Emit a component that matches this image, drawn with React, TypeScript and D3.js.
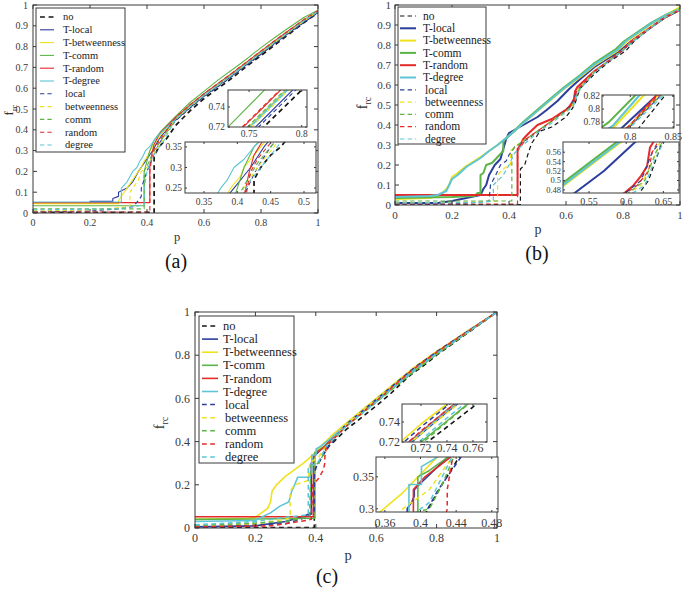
import React from 'react';
import * as d3 from 'd3';

type Pt = [number, number];

const seriesNames = ['no', 'T-local', 'T-betweenness', 'T-comm', 'T-random', 'T-degree', 'local', 'betweenness', 'comm', 'random', 'degree'];
const seriesColors = ['#151515', '#2c3e9c', '#f0e21c', '#5db446', '#e42a2a', '#5cc5d6', '#2c3e9c', '#f0e21c', '#5db446', '#e42a2a', '#5cc5d6'];
const seriesDashed = [true, false, false, false, false, false, true, true, true, true, true];

const xTicksMain = [0, 0.2, 0.4, 0.6, 0.8, 1];
const yTicksAB = [0, 0.1, 0.2, 0.3, 0.4, 0.5, 0.6, 0.7, 0.8, 0.9, 1];
const yTicksC = [0, 0.2, 0.4, 0.6, 0.8, 1];
const a1XTicks = [0.75, 0.8];
const a1YTicks = [0.72, 0.74];
const a2XTicks = [0.35, 0.4, 0.45, 0.5];
const a2YTicks = [0.25, 0.3, 0.35];
const b1XTicks = [0.8, 0.85];
const b1YTicks = [0.78, 0.8, 0.82];
const b2XTicks = [0.55, 0.6, 0.65];
const b2YTicks = [0.48, 0.5, 0.52, 0.54, 0.56];
const c1XTicks = [0.72, 0.74, 0.76];
const c1YTicks = [0.72, 0.74];
const c2XTicks = [0.36, 0.4, 0.44, 0.48];
const c2YTicks = [0.3, 0.35];

// ---------- panel (a) ----------
const aNo: Pt[] = [[0, 0.003], [0.425, 0.003], [0.425, 0.27], [0.435, 0.3], [0.45, 0.33], [0.465, 0.35], [0.5, 0.42], [0.55, 0.49], [0.6, 0.55], [0.65, 0.6], [0.7, 0.65], [0.73, 0.684], [0.76, 0.716], [0.8, 0.757], [0.85, 0.81], [0.9, 0.862], [0.95, 0.915], [1, 0.962]];
const aTLocal: Pt[] = [[0, 0.05], [0.2, 0.05], [0.2, 0.056], [0.28, 0.056], [0.28, 0.07], [0.3, 0.08], [0.3, 0.1], [0.33, 0.12], [0.35, 0.15], [0.37, 0.2], [0.385, 0.23], [0.395, 0.25], [0.41, 0.28], [0.42, 0.3], [0.44, 0.35], [0.45, 0.37], [0.5, 0.446], [0.55, 0.506], [0.6, 0.561], [0.65, 0.611], [0.7, 0.661], [0.73, 0.693], [0.76, 0.724], [0.8, 0.766], [0.85, 0.818], [0.9, 0.868], [0.95, 0.918], [1, 0.965]];
const aTBetw: Pt[] = [[0, 0.045], [0.3, 0.045], [0.3, 0.06], [0.32, 0.1], [0.34, 0.14], [0.36, 0.18], [0.38, 0.22], [0.39, 0.25], [0.405, 0.28], [0.41, 0.3], [0.43, 0.34], [0.45, 0.38], [0.5, 0.453], [0.55, 0.513], [0.6, 0.568], [0.65, 0.618], [0.7, 0.668], [0.73, 0.7], [0.76, 0.731], [0.8, 0.773], [0.85, 0.825], [0.9, 0.875], [0.95, 0.925], [1, 0.972]];
const aTComm: Pt[] = [[0, 0.035], [0.39, 0.035], [0.39, 0.2], [0.4, 0.25], [0.41, 0.3], [0.425, 0.35], [0.45, 0.395], [0.5, 0.465], [0.55, 0.53], [0.6, 0.585], [0.65, 0.64], [0.7, 0.69], [0.73, 0.72], [0.76, 0.752], [0.8, 0.795], [0.85, 0.845], [0.9, 0.893], [0.95, 0.94], [1, 0.975]];
const aTRand: Pt[] = [[0, 0.05], [0.41, 0.05], [0.41, 0.23], [0.418, 0.29], [0.425, 0.33], [0.44, 0.37], [0.45, 0.39], [0.5, 0.458], [0.55, 0.518], [0.6, 0.573], [0.65, 0.623], [0.7, 0.673], [0.73, 0.705], [0.76, 0.736], [0.8, 0.778], [0.85, 0.83], [0.9, 0.88], [0.95, 0.928], [1, 0.97]];
const aTDeg: Pt[] = [[0, 0.053], [0.31, 0.053], [0.31, 0.12], [0.33, 0.15], [0.35, 0.2], [0.365, 0.22], [0.375, 0.25], [0.385, 0.27], [0.395, 0.3], [0.41, 0.32], [0.425, 0.35], [0.45, 0.387], [0.5, 0.452], [0.55, 0.512], [0.6, 0.567], [0.65, 0.617], [0.7, 0.667], [0.73, 0.699], [0.76, 0.73], [0.8, 0.772], [0.85, 0.824], [0.9, 0.874], [0.95, 0.924], [1, 0.968]];
const aLocal: Pt[] = [[0, 0.005], [0.2, 0.01], [0.3, 0.02], [0.35, 0.03], [0.37, 0.06], [0.38, 0.08], [0.38, 0.12], [0.4, 0.2], [0.415, 0.25], [0.43, 0.3], [0.45, 0.35], [0.47, 0.39], [0.5, 0.443], [0.55, 0.503], [0.6, 0.558], [0.65, 0.608], [0.7, 0.658], [0.73, 0.69], [0.76, 0.721], [0.8, 0.763], [0.85, 0.815], [0.9, 0.865], [0.95, 0.915], [1, 0.963]];
const aBetw: Pt[] = [[0, 0.01], [0.2, 0.015], [0.34, 0.03], [0.34, 0.1], [0.35, 0.12], [0.37, 0.16], [0.38, 0.2], [0.4, 0.22], [0.41, 0.25], [0.43, 0.3], [0.455, 0.35], [0.47, 0.39], [0.5, 0.45], [0.55, 0.51], [0.6, 0.565], [0.65, 0.615], [0.7, 0.665], [0.73, 0.697], [0.76, 0.728], [0.8, 0.77], [0.85, 0.822], [0.9, 0.872], [0.95, 0.922], [1, 0.97]];
const aComm: Pt[] = [[0, 0.02], [0.39, 0.02], [0.39, 0.2], [0.405, 0.24], [0.415, 0.27], [0.43, 0.31], [0.45, 0.35], [0.47, 0.39], [0.5, 0.454], [0.55, 0.514], [0.6, 0.569], [0.65, 0.619], [0.7, 0.669], [0.73, 0.701], [0.76, 0.732], [0.8, 0.774], [0.85, 0.826], [0.9, 0.876], [0.95, 0.926], [1, 0.972]];
const aRand: Pt[] = [[0, 0.005], [0.41, 0.005], [0.41, 0.2], [0.415, 0.25], [0.42, 0.29], [0.43, 0.32], [0.45, 0.36], [0.47, 0.4], [0.5, 0.459], [0.55, 0.519], [0.6, 0.574], [0.65, 0.624], [0.7, 0.674], [0.73, 0.706], [0.76, 0.737], [0.8, 0.779], [0.85, 0.831], [0.9, 0.88], [0.95, 0.93], [1, 0.972]];
const aDeg: Pt[] = [[0, 0.015], [0.3, 0.02], [0.35, 0.03], [0.39, 0.04], [0.39, 0.12], [0.4, 0.2], [0.41, 0.24], [0.42, 0.27], [0.44, 0.31], [0.46, 0.35], [0.48, 0.4], [0.5, 0.451], [0.55, 0.511], [0.6, 0.566], [0.65, 0.616], [0.7, 0.666], [0.73, 0.698], [0.76, 0.729], [0.8, 0.771], [0.85, 0.823], [0.9, 0.873], [0.95, 0.923], [1, 0.97]];

// ---------- panel (b) ----------
const bNo: Pt[] = [[0, 0.002], [0.44, 0.002], [0.44, 0.18], [0.455, 0.2], [0.47, 0.27], [0.48, 0.31], [0.5, 0.35], [0.51, 0.37], [0.55, 0.39], [0.6, 0.44], [0.618, 0.474], [0.63, 0.5], [0.648, 0.58], [0.7, 0.655], [0.75, 0.715], [0.81, 0.771], [0.84, 0.82], [0.9, 0.89], [0.95, 0.94], [1, 0.975]];
const bTLocal: Pt[] = [[0, 0.01], [0.15, 0.01], [0.2, 0.02], [0.25, 0.035], [0.3, 0.05], [0.31, 0.08], [0.32, 0.1], [0.33, 0.15], [0.35, 0.2], [0.37, 0.23], [0.38, 0.28], [0.39, 0.33], [0.4, 0.36], [0.45, 0.4], [0.5, 0.44], [0.531, 0.474], [0.57, 0.52], [0.611, 0.58], [0.65, 0.63], [0.7, 0.69], [0.75, 0.735], [0.79, 0.771], [0.83, 0.82], [0.9, 0.89], [0.95, 0.94], [1, 0.975]];
const bTBetw: Pt[] = [[0, 0.03], [0.12, 0.035], [0.16, 0.05], [0.18, 0.08], [0.19, 0.1], [0.2, 0.14], [0.22, 0.16], [0.25, 0.195], [0.3, 0.24], [0.33, 0.27], [0.36, 0.3], [0.39, 0.335], [0.42, 0.37], [0.45, 0.41], [0.515, 0.488], [0.59, 0.578], [0.65, 0.64], [0.7, 0.698], [0.78, 0.771], [0.815, 0.82], [0.9, 0.905], [0.95, 0.95], [1, 0.99]];
const bTComm: Pt[] = [[0, 0.035], [0.2, 0.04], [0.28, 0.045], [0.29, 0.06], [0.3, 0.06], [0.3, 0.15], [0.31, 0.16], [0.32, 0.2], [0.34, 0.21], [0.36, 0.24], [0.38, 0.27], [0.38, 0.32], [0.4, 0.345], [0.45, 0.415], [0.515, 0.495], [0.59, 0.585], [0.65, 0.65], [0.7, 0.71], [0.775, 0.78], [0.805, 0.82], [0.9, 0.912], [0.95, 0.95], [1, 0.98]];
const bTRand: Pt[] = [[0, 0.05], [0.43, 0.05], [0.43, 0.28], [0.44, 0.3], [0.45, 0.33], [0.47, 0.36], [0.5, 0.4], [0.55, 0.43], [0.598, 0.474], [0.61, 0.49], [0.62, 0.51], [0.628, 0.53], [0.632, 0.57], [0.64, 0.59], [0.7, 0.67], [0.75, 0.72], [0.8, 0.775], [0.83, 0.82], [0.9, 0.89], [0.95, 0.94], [1, 0.975]];
const bTDeg: Pt[] = [[0, 0.04], [0.12, 0.045], [0.15, 0.05], [0.18, 0.07], [0.19, 0.1], [0.2, 0.13], [0.22, 0.15], [0.25, 0.19], [0.3, 0.235], [0.33, 0.27], [0.36, 0.3], [0.39, 0.335], [0.42, 0.37], [0.45, 0.41], [0.515, 0.49], [0.59, 0.58], [0.65, 0.645], [0.7, 0.703], [0.78, 0.775], [0.81, 0.82], [0.9, 0.908], [0.95, 0.95], [1, 0.98]];
const bLocal: Pt[] = [[0, 0.002], [0.2, 0.005], [0.3, 0.015], [0.33, 0.02], [0.335, 0.1], [0.35, 0.14], [0.37, 0.2], [0.39, 0.22], [0.4, 0.25], [0.42, 0.29], [0.46, 0.325], [0.51, 0.375], [0.55, 0.42], [0.6, 0.475], [0.62, 0.5], [0.635, 0.56], [0.645, 0.58], [0.7, 0.665], [0.75, 0.72], [0.8, 0.774], [0.835, 0.82], [0.9, 0.89], [0.95, 0.94], [1, 0.975]];
const bBetw: Pt[] = [[0, 0.01], [0.3, 0.015], [0.36, 0.02], [0.36, 0.15], [0.38, 0.18], [0.4, 0.2], [0.405, 0.2], [0.405, 0.27], [0.42, 0.29], [0.45, 0.32], [0.5, 0.37], [0.55, 0.42], [0.6, 0.47], [0.62, 0.49], [0.638, 0.55], [0.645, 0.58], [0.7, 0.668], [0.75, 0.722], [0.8, 0.776], [0.832, 0.82], [0.9, 0.892], [0.95, 0.942], [1, 0.98]];
const bComm: Pt[] = [[0, 0.02], [0.41, 0.02], [0.41, 0.27], [0.42, 0.29], [0.45, 0.32], [0.5, 0.37], [0.55, 0.42], [0.6, 0.47], [0.625, 0.5], [0.64, 0.56], [0.648, 0.58], [0.7, 0.665], [0.75, 0.72], [0.8, 0.775], [0.835, 0.82], [0.9, 0.89], [0.95, 0.94], [1, 0.978]];
const bRand: Pt[] = [[0, 0.005], [0.43, 0.005], [0.43, 0.27], [0.44, 0.29], [0.46, 0.33], [0.5, 0.37], [0.55, 0.42], [0.6, 0.474], [0.615, 0.49], [0.63, 0.52], [0.635, 0.56], [0.642, 0.58], [0.7, 0.668], [0.75, 0.722], [0.8, 0.776], [0.833, 0.82], [0.9, 0.892], [0.95, 0.942], [1, 0.977]];
const bDeg: Pt[] = [[0, 0.01], [0.3, 0.012], [0.345, 0.02], [0.345, 0.1], [0.36, 0.12], [0.38, 0.15], [0.4, 0.2], [0.42, 0.26], [0.44, 0.29], [0.5, 0.36], [0.55, 0.41], [0.6, 0.465], [0.625, 0.49], [0.64, 0.55], [0.65, 0.58], [0.7, 0.663], [0.75, 0.718], [0.8, 0.772], [0.838, 0.82], [0.9, 0.888], [0.95, 0.94], [1, 0.975]];

// ---------- panel (c) ----------
const cNo: Pt[] = [[0, 0.002], [0.395, 0.002], [0.395, 0.25], [0.4, 0.28], [0.408, 0.298], [0.425, 0.34], [0.443, 0.38], [0.46, 0.4], [0.5, 0.455], [0.55, 0.51], [0.6, 0.565], [0.65, 0.625], [0.7, 0.692], [0.72, 0.715], [0.74, 0.735], [0.76, 0.755], [0.8, 0.8], [0.9, 0.9], [1, 1]];
const cTLocal: Pt[] = [[0, 0.005], [0.2, 0.01], [0.3, 0.03], [0.35, 0.05], [0.37, 0.06], [0.385, 0.07], [0.385, 0.3], [0.39, 0.31], [0.393, 0.32], [0.393, 0.33], [0.4, 0.34], [0.415, 0.36], [0.43, 0.38], [0.45, 0.41], [0.5, 0.476], [0.6, 0.59], [0.7, 0.705], [0.72, 0.728], [0.74, 0.75], [0.8, 0.81], [0.9, 0.905], [1, 1]];
const cTBetw: Pt[] = [[0, 0.04], [0.18, 0.045], [0.2, 0.05], [0.22, 0.07], [0.24, 0.09], [0.25, 0.12], [0.255, 0.17], [0.27, 0.2], [0.3, 0.24], [0.33, 0.27], [0.357, 0.298], [0.38, 0.325], [0.418, 0.38], [0.45, 0.425], [0.5, 0.485], [0.6, 0.6], [0.7, 0.715], [0.72, 0.738], [0.74, 0.758], [0.8, 0.818], [0.9, 0.91], [1, 1]];
const cTComm: Pt[] = [[0, 0.04], [0.2, 0.042], [0.397, 0.045], [0.397, 0.35], [0.41, 0.36], [0.43, 0.38], [0.45, 0.405], [0.5, 0.475], [0.6, 0.585], [0.7, 0.698], [0.72, 0.72], [0.74, 0.741], [0.8, 0.805], [0.9, 0.903], [1, 1]];
const cTRand: Pt[] = [[0, 0.052], [0.392, 0.052], [0.392, 0.33], [0.405, 0.35], [0.433, 0.38], [0.45, 0.41], [0.5, 0.475], [0.6, 0.59], [0.7, 0.708], [0.72, 0.73], [0.74, 0.752], [0.8, 0.813], [0.9, 0.907], [1, 1]];
const cTDeg: Pt[] = [[0, 0.03], [0.2, 0.035], [0.22, 0.05], [0.25, 0.07], [0.28, 0.1], [0.31, 0.12], [0.315, 0.14], [0.32, 0.17], [0.33, 0.2], [0.34, 0.235], [0.38, 0.235], [0.387, 0.26], [0.387, 0.338], [0.401, 0.338], [0.401, 0.366], [0.418, 0.38], [0.45, 0.415], [0.5, 0.478], [0.6, 0.592], [0.7, 0.707], [0.72, 0.729], [0.74, 0.751], [0.8, 0.812], [0.9, 0.906], [1, 1]];
const cLocal: Pt[] = [[0, 0.005], [0.3, 0.02], [0.37, 0.05], [0.39, 0.07], [0.395, 0.07], [0.395, 0.25], [0.4, 0.28], [0.41, 0.305], [0.42, 0.33], [0.44, 0.37], [0.45, 0.39], [0.5, 0.48], [0.6, 0.595], [0.7, 0.712], [0.72, 0.735], [0.74, 0.756], [0.8, 0.816], [0.9, 0.908], [1, 1]];
const cBetw: Pt[] = [[0, 0.01], [0.2, 0.02], [0.3, 0.04], [0.315, 0.05], [0.315, 0.17], [0.33, 0.2], [0.375, 0.22], [0.38, 0.3], [0.41, 0.33], [0.43, 0.37], [0.45, 0.4], [0.5, 0.478], [0.6, 0.593], [0.7, 0.706], [0.72, 0.728], [0.74, 0.749], [0.8, 0.81], [0.9, 0.905], [1, 1]];
const cComm: Pt[] = [[0, 0.01], [0.3, 0.03], [0.375, 0.05], [0.38, 0.06], [0.383, 0.29], [0.41, 0.3], [0.425, 0.34], [0.437, 0.38], [0.45, 0.4], [0.5, 0.47], [0.6, 0.582], [0.7, 0.696], [0.72, 0.718], [0.74, 0.74], [0.8, 0.805], [0.9, 0.903], [1, 1]];
const cRand: Pt[] = [[0, 0.005], [0.25, 0.01], [0.3, 0.02], [0.37, 0.035], [0.385, 0.04], [0.39, 0.2], [0.41, 0.23], [0.425, 0.27], [0.43, 0.3], [0.43, 0.33], [0.436, 0.38], [0.45, 0.4], [0.5, 0.47], [0.6, 0.588], [0.7, 0.708], [0.72, 0.731], [0.74, 0.752], [0.8, 0.813], [0.9, 0.907], [1, 1]];
const cDeg: Pt[] = [[0, 0.015], [0.2, 0.03], [0.3, 0.05], [0.37, 0.06], [0.375, 0.06], [0.375, 0.28], [0.39, 0.29], [0.41, 0.31], [0.435, 0.38], [0.45, 0.4], [0.5, 0.47], [0.6, 0.583], [0.7, 0.7], [0.72, 0.722], [0.74, 0.744], [0.8, 0.807], [0.9, 0.904], [1, 1]];

const panelAData = [aNo, aTLocal, aTBetw, aTComm, aTRand, aTDeg, aLocal, aBetw, aComm, aRand, aDeg];
const panelBData = [bNo, bTLocal, bTBetw, bTComm, bTRand, bTDeg, bLocal, bBetw, bComm, bRand, bDeg];
const panelCData = [cNo, cTLocal, cTBetw, cTComm, cTRand, cTDeg, cLocal, cBetw, cComm, cRand, cDeg];

const FONT = "'Liberation Serif', 'DejaVu Serif', serif";
const AXIS = '#3a3a3a';

type Rect = { x0: number; x1: number; y0: number; y1: number };
type LW = { solid: number; dashed: number; no: number };

function Axes(props: {
  id: string; rect: Rect; xDom: number[]; yDom: number[]; xTicks: number[]; yTicks: number[];
  data: Pt[][]; lw: LW; font: number; yFont?: number; tick: number; xLabDy: number; yLabDx: number; inset?: boolean;
}) {
  const { id, rect, xDom, yDom, xTicks, yTicks, data, lw, font, tick, xLabDy, yLabDx, inset } = props;
  const yFont = props.yFont ?? font;
  const x = d3.scaleLinear().domain(xDom).range([rect.x0, rect.x1]);
  const y = d3.scaleLinear().domain(yDom).range([rect.y1, rect.y0]);
  const line = d3.line<Pt>().x(d => x(d[0])).y(d => y(d[1]));
  const w = rect.x1 - rect.x0, h = rect.y1 - rect.y0;
  return (
    <g>
      <defs>
        <clipPath id={id}><rect x={rect.x0} y={rect.y0} width={w} height={h} /></clipPath>
      </defs>
      {inset && <rect x={rect.x0} y={rect.y0} width={w} height={h} fill="#fff" />}
      <g clipPath={`url(#${id})`}>
        {data.map((s, i) => {
          const width = i === 0 ? lw.no : seriesDashed[i] ? lw.dashed : lw.solid;
          return (
            <path key={i} d={line(s) || ''} fill="none" stroke={seriesColors[i]} strokeWidth={width}
              strokeDasharray={seriesDashed[i] ? `${3.2 + width},${2 + width}` : undefined} strokeLinejoin="round" />
          );
        })}
      </g>
      <rect x={rect.x0} y={rect.y0} width={w} height={h} fill="none" stroke={AXIS} strokeWidth={1} />
      {xTicks.map(t => (
        <g key={'x' + t}>
          <line x1={x(t)} x2={x(t)} y1={rect.y1} y2={rect.y1 - tick} stroke={AXIS} />
          <line x1={x(t)} x2={x(t)} y1={rect.y0} y2={rect.y0 + tick} stroke={AXIS} />
          <text x={x(t)} y={rect.y1 + xLabDy} textAnchor="middle" style={{ fontFamily: FONT }} fontSize={font} fill={AXIS}>{String(t)}</text>
        </g>
      ))}
      {yTicks.map(t => (
        <g key={'y' + t}>
          <line x1={rect.x0} x2={rect.x0 + tick} y1={y(t)} y2={y(t)} stroke={AXIS} />
          <line x1={rect.x1} x2={rect.x1 - tick} y1={y(t)} y2={y(t)} stroke={AXIS} />
          <text x={rect.x0 - yLabDx} y={y(t)} dy="0.35em" textAnchor="end" style={{ fontFamily: FONT }} fontSize={yFont} fill={AXIS}>{String(t)}</text>
        </g>
      ))}
    </g>
  );
}

function Legend(props: { x: number; y: number; w: number; h: number; first: number; step: number; l0: number; l1: number; tx: number; font: number; lw: LW }) {
  const { x, y, w, h, first, step, l0, l1, tx, font, lw } = props;
  return (
    <g>
      <rect x={x} y={y} width={w} height={h} fill="#fff" stroke={AXIS} strokeWidth={1} />
      {seriesNames.map((n, i) => {
        const yy = first + i * step;
        const width = i === 0 ? lw.no : seriesDashed[i] ? lw.dashed : lw.solid;
        return (
          <g key={n}>
            <line x1={l0} x2={l1} y1={yy} y2={yy} stroke={seriesColors[i]} strokeWidth={width}
              strokeDasharray={seriesDashed[i] ? `${3.2 + width},${2 + width}` : undefined} />
            <text x={tx + (i >= 6 ? 2 : 0)} y={yy} dy="0.33em" style={{ fontFamily: FONT }} fontSize={font} fill="#222">{n}</text>
          </g>
        );
      })}
    </g>
  );
}

function AxisLabels(props: { px: number; py: number; fx: number; fy: number; font: number; tag: string; tx: number; ty: number }) {
  const { px, py, fx, fy, font, tag, tx, ty } = props;
  return (
    <g style={{ fontFamily: FONT }} fill="#333">
      <text x={px} y={py} textAnchor="middle" fontSize={font}>p</text>
      <text transform={`translate(${fx},${fy}) rotate(-90)`} textAnchor="middle" fontSize={font}>
        f<tspan fontSize={font * 0.7} dy={font * 0.3}>rc</tspan>
      </text>
      <text x={tx} y={ty} textAnchor="middle" fontSize={20} fill="#111">{tag}</text>
    </g>
  );
}

export default function App() {
  const lwA: LW = { solid: 1.1, dashed: 1.1, no: 1.7 };
  const lwB: LW = { solid: 2, dashed: 1.2, no: 1.2 };
  const lwC: LW = { solid: 1.6, dashed: 1.5, no: 1.6 };
  return (
    <svg width={685} height={594} style={{ position: 'absolute', left: 0, top: 0, background: '#fff', fontFamily: FONT }}>
      <rect x={0} y={0} width={685} height={594} fill="#fff" />
      {/* panel a */}
      <Axes id="ma" rect={{ x0: 33, x1: 318, y0: 5, y1: 213 }} xDom={[0, 1]} yDom={[0, 1]} xTicks={xTicksMain} yTicks={yTicksAB}
        data={panelAData} lw={lwA} font={10} tick={4} xLabDy={13} yLabDx={5} />
      <Legend x={36} y={8} w={89} h={144} first={17} step={12.8} l0={40} l1={54} tx={63} font={10.5} lw={lwA} />
      <Axes id="a1" inset rect={{ x0: 228, x1: 307, y0: 90, y1: 127 }} xDom={[0.73, 0.805]} yDom={[0.72, 0.757]} xTicks={a1XTicks} yTicks={a1YTicks}
        data={panelAData} lw={lwA} font={9.5} tick={2} xLabDy={10} yLabDx={3} />
      <Axes id="a2" inset rect={{ x0: 185, x1: 316, y0: 142, y1: 193 }} xDom={[0.3215, 0.518]} yDom={[0.238, 0.362]} xTicks={a2XTicks} yTicks={a2YTicks}
        data={panelAData} lw={lwA} font={9.5} tick={2} xLabDy={12} yLabDx={3} />
      <AxisLabels px={177} py={241} fx={13} fy={110} font={12.5} tag="(a)" tx={176} ty={268} />

      {/* panel b */}
      <Axes id="mb" rect={{ x0: 395, x1: 680, y0: 5, y1: 205 }} xDom={[0, 1]} yDom={[0, 1]} xTicks={xTicksMain} yTicks={yTicksAB}
        data={panelBData} lw={lwB} font={11} tick={4} xLabDy={14} yLabDx={4} />
      <Legend x={398} y={7} w={88} h={137} first={16} step={12.3} l0={400} l1={416} tx={423} font={11.5} lw={lwB} />
      <Axes id="b1" inset rect={{ x0: 602, x1: 674, y0: 95, y1: 128 }} xDom={[0.767, 0.851]} yDom={[0.771, 0.8215]} xTicks={b1XTicks} yTicks={b1YTicks}
        data={panelBData} lw={lwB} font={10} yFont={9.5} tick={2} xLabDy={12} yLabDx={2} />
      <Axes id="b2" inset rect={{ x0: 563, x1: 679, y0: 142, y1: 193 }} xDom={[0.515, 0.671]} yDom={[0.4735, 0.5816]} xTicks={b2XTicks} yTicks={b2YTicks}
        data={panelBData} lw={lwB} font={10} yFont={8.5} tick={2} xLabDy={12} yLabDx={2} />
      <AxisLabels px={538} py={234} fx={367} fy={103} font={14} tag="(b)" tx={537} ty={260} />

      {/* panel c */}
      <Axes id="mc" rect={{ x0: 195, x1: 497, y0: 312, y1: 528 }} xDom={[0, 1]} yDom={[0, 1]} xTicks={xTicksMain} yTicks={yTicksC}
        data={panelCData} lw={lwC} font={12} tick={4} xLabDy={14} yLabDx={5} />
      <Legend x={199} y={316} w={95} h={147} first={326} step={13.1} l0={202} l1={218} tx={223} font={12.5} lw={lwC} />
      <Axes id="c1" inset rect={{ x0: 402, x1: 487, y0: 404, y1: 442 }} xDom={[0.7054, 0.7708]} yDom={[0.72, 0.758]} xTicks={c1XTicks} yTicks={c1YTicks}
        data={panelCData} lw={lwC} font={12} tick={2} xLabDy={10} yLabDx={2} />
      <Axes id="c2" inset rect={{ x0: 376, x1: 498, y0: 457, y1: 512 }} xDom={[0.35, 0.487]} yDom={[0.295, 0.381]} xTicks={c2XTicks} yTicks={c2YTicks}
        data={panelCData} lw={lwC} font={12} tick={2} xLabDy={15} yLabDx={2} />
      <AxisLabels px={348} py={560} fx={164} fy={423} font={14.5} tag="(c)" tx={327} ty={583} />
    </svg>
  );
}
